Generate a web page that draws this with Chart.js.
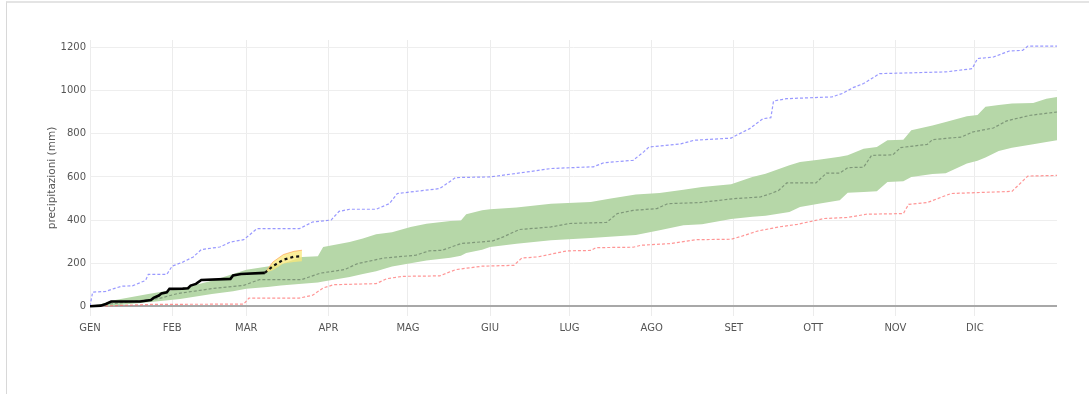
<!DOCTYPE html>
<html>
<head>
<meta charset="utf-8">
<title>precipitazioni cumulate</title>
<script src="https://cdn.jsdelivr.net/npm/chart.js@4/dist/chart.umd.min.js"></script>
<style>
  html, body { margin: 0; padding: 0; background: #fff; }
  body { width: 1089px; height: 394px; position: relative; overflow: hidden; }
  .frame { position: absolute; left: 6px; top: 1px; right: 0; bottom: 0; border-top: 2px solid #e4e4e4; border-left: 1px solid #d8d8d8; }
  #chart { position: absolute; left: 0; top: 0; }
</style>
</head>
<body>
<div class="frame"></div>
<canvas id="chart" width="1089" height="394"></canvas>
<script>
// x axis = day of year, months labelled at their first day
const monthLabels = ['GEN', 'FEB', 'MAR', 'APR', 'MAG', 'GIU', 'LUG', 'AGO', 'SET', 'OTT', 'NOV', 'DIC'];
const monthStartDays = [0, 31, 59, 90, 120, 151, 181, 212, 243, 273, 304, 334];
const yTicks = [0, 200, 400, 600, 800, 1000, 1200];

// historical maximum (mm)
const maxDays = [0, 1, 6, 9, 12, 16, 21, 22, 29, 31, 35, 39, 42, 49, 53, 58, 60, 63, 79, 84, 91, 94, 98, 108, 113, 116, 132, 138, 151, 165, 174, 190, 194, 205, 209, 211, 223, 228, 242, 244, 249, 254, 257, 258, 263, 280, 284, 288, 292, 298, 323, 333, 335, 341, 347, 352, 354, 365];
const maxVals = [0, 66, 69, 82, 93, 95, 120, 148, 148, 186, 205, 229, 263, 275, 298, 309, 329, 360, 360, 391, 400, 440, 450, 450, 476, 523, 546, 597, 600, 623, 639, 647, 666, 677, 716, 739, 753, 770, 780, 793, 824, 870, 875, 952, 963, 971, 987, 1014, 1033, 1079, 1087, 1102, 1149, 1156, 1184, 1187, 1207, 1207];

// historical minimum (mm)
const minDays = [0, 6, 24, 58, 60, 79, 84, 88, 92, 108, 112, 118, 132, 138, 148, 160, 163, 169, 180, 189, 191, 205, 208, 219, 229, 242, 246, 252, 260, 267, 273, 277, 286, 293, 307, 309, 316, 325, 348, 354, 365];
const minVals = [0, 2, 9, 10, 38, 38, 51, 85, 100, 105, 128, 139, 141, 170, 186, 190, 224, 229, 257, 259, 272, 274, 283, 291, 309, 311, 325, 349, 368, 380, 396, 407, 412, 427, 430, 473, 481, 523, 533, 604, 607];

// median (mm)
const medianDays = [0, 7, 26, 33, 46, 58, 64, 80, 87, 96, 101, 111, 123, 128, 133, 140, 152, 156, 162, 174, 181, 195, 199, 205, 214, 218, 230, 243, 253, 257, 260, 263, 274, 278, 283, 286, 292, 295, 303, 306, 316, 318, 329, 333, 341, 346, 355, 365];
const medianVals = [0, 10, 36, 59, 82, 97, 124, 124, 154, 170, 198, 224, 237, 257, 260, 291, 303, 322, 356, 368, 384, 389, 430, 445, 453, 476, 481, 499, 507, 523, 538, 572, 572, 618, 618, 643, 645, 700, 702, 736, 751, 773, 785, 808, 827, 860, 886, 901];

// inter-quartile band (mm)
const bandDays = [0, 4, 8, 22, 34, 46, 54, 59, 67, 72, 80, 86, 88, 98, 103, 108, 114, 121, 127, 136, 140, 142, 148, 151, 161, 174, 189, 196, 206, 215, 224, 231, 242, 250, 255, 264, 268, 275, 283, 286, 292, 297, 301, 307, 310, 318, 323, 331, 335, 338, 343, 348, 356, 361, 365];
const bandLow = [0, 1, 3, 19, 34, 57, 70, 81, 90, 96, 105, 110, 115, 136, 150, 162, 185, 200, 212, 225, 235, 247, 262, 275, 290, 306, 317, 322, 331, 353, 376, 380, 405, 415, 420, 437, 461, 476, 492, 527, 530, 534, 577, 580, 600, 614, 617, 662, 675, 690, 720, 735, 752, 762, 770];
const bandHigh = [0, 10, 26, 57, 81, 119, 150, 169, 184, 195, 229, 232, 275, 298, 314, 334, 343, 368, 383, 396, 398, 427, 445, 450, 458, 476, 484, 499, 519, 525, 541, 553, 566, 600, 615, 654, 669, 680, 693, 700, 731, 739, 770, 772, 816, 839, 855, 881, 887, 925, 933, 940, 943, 963, 971];

// current year, observed (mm)
const obsDays = [0, 4, 6, 8, 19, 23, 24, 26, 27, 29, 30, 35, 37, 38, 40, 42, 53, 54, 57, 66];
const obsVals = [0, 3, 11, 22, 22, 29, 39, 50, 60, 65, 81, 82, 84, 96, 104, 122, 127, 143, 150, 155];

// forecast with its range (mm)
const fcDays = [66, 69, 73, 77, 80];
const fcMid = [155, 186, 216, 230, 232];
const fcLow = [155, 167, 198, 206, 209];
const fcHigh = [155, 205, 240, 255, 260];

const pts = (xs, ys) => xs.map((x, i) => ({ x: x, y: ys[i] }));

const line = (data, color, extra) => Object.assign({
  data: data,
  borderColor: color,
  borderWidth: 1.2,
  pointRadius: 0,
  tension: 0,
  fill: false
}, extra);

const datasets = [
  line(pts(bandDays, bandLow), 'rgba(0,0,0,0)', { borderWidth: 0, order: 10 }),
  line(pts(bandDays, bandHigh), 'rgba(0,0,0,0)', { borderWidth: 0, fill: 0, backgroundColor: 'rgb(182,215,168)', order: 9 }),
  line(pts(minDays, minVals), 'rgba(255,105,105,0.7)', { borderDash: [3, 2], order: 8 }),
  line(pts(maxDays, maxVals), 'rgba(110,110,255,0.7)', { borderDash: [3, 2], order: 7 }),
  line(pts(medianDays, medianVals), 'rgba(90,110,90,0.6)', { borderDash: [3, 2], order: 6 }),
  line(pts(fcDays, fcLow), 'rgba(0,0,0,0)', { borderWidth: 0, order: 5 }),
  line(pts(fcDays, fcHigh), 'rgba(255,165,90,0.7)', { borderWidth: 1, fill: 5, backgroundColor: 'rgba(250,232,120,0.75)', order: 4 }),
  line(pts(obsDays, obsVals), '#000', { borderWidth: 2.6, order: 3 }),
  line(pts(fcDays, fcMid), '#111', { borderWidth: 2.2, borderDash: [3, 3], order: 2 })
];

const tickFont = { family: "'DejaVu Sans', Verdana, sans-serif", size: 10 };

new Chart(document.getElementById('chart'), {
  type: 'line',
  data: { datasets: datasets },
  options: {
    responsive: false,
    animation: false,
    layout: { padding: { left: 40, right: 32, top: 40, bottom: 48 } },
    plugins: {
      legend: { display: false },
      tooltip: { enabled: false }
    },
    scales: {
      x: {
        type: 'linear',
        min: 0,
        max: 365,
        afterBuildTicks: scale => { scale.ticks = monthStartDays.map(v => ({ value: v })); },
        afterFit: scale => { scale.height = 30; },
        border: { display: false },
        grid: { color: '#ececec', lineWidth: 1, drawTicks: false },
        ticks: {
          font: tickFont,
          color: '#555',
          padding: 6,
          maxRotation: 0,
          autoSkip: false,
          callback: v => monthLabels[monthStartDays.indexOf(v)]
        }
      },
      y: {
        min: -45,
        max: 1235,
        afterBuildTicks: scale => { scale.ticks = yTicks.map(v => ({ value: v })); },
        afterFit: scale => { scale.width = 50; },
        border: { display: false },
        grid: {
          drawTicks: false,
          color: ctx => ctx.tick && ctx.tick.value === 0 ? '#a8a8a8' : '#eeeeee',
          lineWidth: ctx => ctx.tick && ctx.tick.value === 0 ? 2 : 1
        },
        ticks: { font: tickFont, color: '#555', padding: 4, callback: v => String(v) },
        title: {
          display: true,
          text: 'precipitazioni (mm)',
          color: '#555',
          font: { family: "'DejaVu Sans', Verdana, sans-serif", size: 10.5 },
          padding: { top: 6, bottom: 0 }
        }
      }
    }
  }
});
</script>
</body>
</html>
